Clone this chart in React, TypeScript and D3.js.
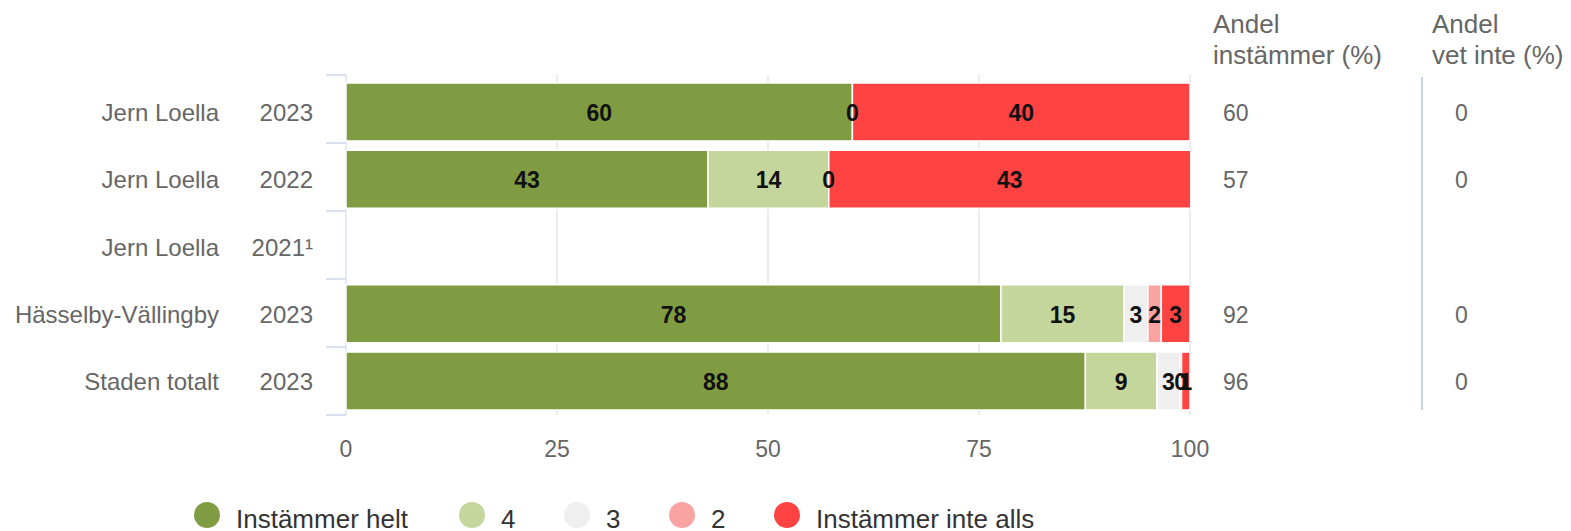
import React from "react";
import * as d3 from "d3";

const categories = ["Jern Loella", "Jern Loella", "Jern Loella", "Hässelby-Vällingby", "Staden totalt"];
const years = ["2023", "2022", "2021¹", "2023", "2023"];
const seriesNames = ["Instämmer helt", "4", "3", "2", "Instämmer inte alls"];
const seriesColors = ["#809c42", "#c4d69c", "#efefef", "#f9a3a3", "#ff4343"];

// one array per series, null = no value shown
const helt = [60, 42.9, null, 77.6, 87.6];
const fyra = [0, 14.3, null, 14.6, 8.5];
const tre = [null, 0, null, 2.8, 2.7];
const tva = [null, null, null, 1.6, 0.2];
const inteAlls = [40, 42.9, null, 3.4, 1.0];
const series = [helt, fyra, tre, tva, inteAlls];

const andelInstammer = ["60", "57", "", "92", "96"];
const andelVetInte = ["0", "0", "", "0", "0"];
const xTicks = [0, 25, 50, 75, 100];

const font = "'Liberation Sans', Arial, sans-serif";

export default function App() {
  const width = 1571, height = 531;
  const x = d3.scaleLinear().domain([0, 100]).range([346, 1190]);
  const y = d3.scaleBand<number>().domain(d3.range(categories.length)).range([83, 410]).paddingInner(0.138).paddingOuter(0);
  const band = d3.scaleBand<number>().domain(d3.range(categories.length)).range([75, 415]);

  const stacks = categories.map((_, i) => {
    let acc = 0;
    return series.map((s, k) => {
      const v = s[i];
      const x0 = acc;
      if (v != null) acc += v;
      return { k, v, x0, x1: acc };
    });
  });

  return (
    <svg width={width} height={height} style={{ display: "block", position: "absolute", left: 0, top: 0, fontFamily: font }}>
      {/* grid */}
      {xTicks.slice(1).map(t => (
        <line key={t} x1={x(t)} x2={x(t)} y1={75} y2={415} stroke="#e6e6e6" strokeWidth={1.5} />
      ))}
      {/* left axis */}
      <line x1={346} x2={346} y1={75} y2={415} stroke="#ccd6eb" />
      {[...band.domain().map(i => band(i)!), 415].map((v, i) => (
        <line key={i} x1={326} x2={346} y1={v} y2={v} stroke="#ccd6eb" strokeWidth={1.5} />
      ))}
      {categories.map((c, i) => {
        const cy = y(i)! + y.bandwidth() / 2 + 9;
        return (
          <g key={i} fill="#666" fontSize={24}>
            <text x={219} y={cy} textAnchor="end">{c}</text>
            <text x={313} y={cy} textAnchor="end">{years[i]}</text>
          </g>
        );
      })}
      {/* bars */}
      {stacks.map((row, i) => (
        <g key={i}>
          {row.filter(d => d.v != null && d.v > 0).map(d => (
            <rect key={d.k} x={x(d.x0)} y={y(i)} width={x(d.x1) - x(d.x0)} height={y.bandwidth()}
              fill={seriesColors[d.k]} stroke="#fff" strokeWidth={1.5} />
          ))}
          {row.filter(d => d.v != null).map(d => (
            <text key={"l" + d.k} x={(x(d.x0) + x(d.x1)) / 2} y={y(i)! + y.bandwidth() / 2 + 9}
              textAnchor="middle" fontSize={23} fontWeight="bold" fill="#111">{Math.round(d.v as number)}</text>
          ))}
        </g>
      ))}
      {/* x axis labels */}
      {xTicks.map(t => (
        <text key={t} x={x(t)} y={457} textAnchor="middle" fontSize={23} fill="#666">{t}</text>
      ))}
      {/* right columns */}
      <g fill="#666" fontSize={26}>
        <text x={1213} y={33}>Andel</text>
        <text x={1213} y={64}>instämmer (%)</text>
        <text x={1432} y={33}>Andel</text>
        <text x={1432} y={64}>vet inte (%)</text>
      </g>
      <line x1={1422} x2={1422} y1={77} y2={410} stroke="#c8d3ea" strokeWidth={2} />
      {categories.map((_, i) => {
        const cy = y(i)! + y.bandwidth() / 2 + 9;
        return (
          <g key={"r" + i} fill="#666" fontSize={23}>
            <text x={1223} y={cy}>{andelInstammer[i]}</text>
            <text x={1455} y={cy}>{andelVetInte[i]}</text>
          </g>
        );
      })}
      {/* legend */}
      {seriesNames.map((n, k) => {
        const cx = [207, 472, 577, 682, 787][k];
        return (
          <g key={n}>
            <circle cx={cx} cy={515} r={13} fill={seriesColors[k]} />
            <text x={cx + 29} y={528} fontSize={26} fill="#333">{n}</text>
          </g>
        );
      })}
    </svg>
  );
}
